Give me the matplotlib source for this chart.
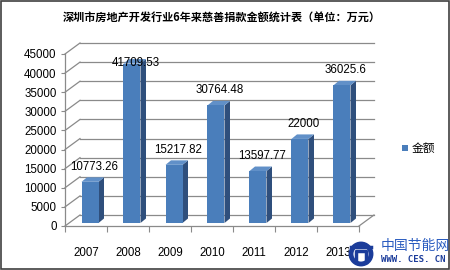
import matplotlib.pyplot as plt
from matplotlib.patches import Polygon, Rectangle, Circle
from matplotlib.lines import Line2D
from matplotlib.transforms import IdentityTransform

plt.rcParams['font.family'] = ['Liberation Sans', 'Noto Sans CJK SC', 'DejaVu Sans']

title = "深圳市房地产开发行业6年来慈善捐款金额统计表（单位：万元）"
years = ["2007", "2008", "2009", "2010", "2011", "2012", "2013"]
values = [10773.26, 41709.53, 15217.82, 30764.48, 13597.77, 22000, 36025.6]
labels = ["10773.26", "41709.53", "15217.82", "30764.48", "13597.77", "22000", "36025.6"]
legend_name = "金额"

W, H = 450, 270
fig = plt.figure(figsize=(4.5, 2.7), dpi=100)

# plot area (front plane) in pixels
x0, x1, y0, ytop = 65, 359, 226, 54
ax = fig.add_axes([x0 / W, (H - y0) / H, (x1 - x0) / W, (y0 - ytop) / H])
n = len(years)
ymax = 45000
ax.set_xlim(0, n)
ax.set_ylim(0, ymax)
ax.patch.set_alpha(0)

px = n / (x1 - x0)          # data units per pixel, x
py = ymax / (y0 - ytop)     # data units per pixel, y

# 3d depth of walls
dx, dy = 15 * px, 11 * py
grid_c = '#8a8a8a'
for t in range(0, ymax + 1, 5000):
    ax.plot([0, dx], [t, t + dy], color=grid_c, lw=0.9, clip_on=False, zorder=1)
    ax.plot([dx, n + dx], [t + dy, t + dy], color=grid_c, lw=0.9, clip_on=False, zorder=1)
ax.plot([n, n + dx], [0, dy], color=grid_c, lw=0.9, clip_on=False, zorder=1)

# bars
front_c, side_c, top_c = '#4a7ebb', '#2f4f7c', '#6190c8'
bw = 17 * px
ox, oy = 4 * px, 3 * py        # bar sits a bit back from the front edge
sx, sy = 5.5 * px, 4.5 * py    # bar depth
for i, v in enumerate(values):
    l = i + 0.5 - bw / 2 + ox
    r = l + bw
    b = oy
    t = v + oy
    ax.add_patch(Polygon([[r, b], [r + sx, b + sy], [r + sx, t + sy], [r, t]],
                         closed=True, fc=side_c, ec='none', clip_on=False, zorder=3))
    ax.add_patch(Polygon([[l, t], [l + sx, t + sy], [r + sx, t + sy], [r, t]],
                         closed=True, fc=top_c, ec='none', clip_on=False, zorder=3))
    ax.add_patch(Rectangle((l, b), bw, v, fc=front_c, ec='none', clip_on=False, zorder=4))
    ly = min(t + 15 * py, ymax - 9 * py)
    ax.text(l + bw / 2 + 4 * px, ly, labels[i], ha='center', va='center',
            fontsize=8.3, color='black', zorder=5)

for s in ['top', 'right']:
    ax.spines[s].set_visible(False)
for s in ['left', 'bottom']:
    ax.spines[s].set_color(grid_c)
    ax.spines[s].set_linewidth(0.9)

ax.set_yticks(range(0, ymax + 1, 5000))
ax.tick_params(axis='y', direction='out', length=3, pad=3, labelsize=8.3, color=grid_c)
ax.set_xticks(range(n + 1))
ax.set_xticklabels([])
ax.set_xticks([i + 0.5 for i in range(n)], minor=True)
ax.set_xticklabels(years, minor=True, fontsize=8.3)
ax.tick_params(axis='x', which='major', direction='out', length=4, color=grid_c)
ax.tick_params(axis='x', which='minor', length=0, pad=15)

def fx(p):
    return p / W

def fy(p):
    return 1 - p / H

fig.text(fx(222), fy(17), title, ha='center', va='center', fontsize=8,
         fontweight='bold', family=['Noto Sans CJK SC', 'DejaVu Sans'])

# legend
fig.add_artist(Rectangle((fx(402), fy(151)), 6 / W, 6 / H, transform=fig.transFigure,
                         fc=front_c, ec='none'))
fig.text(fx(412), fy(148), legend_name, ha='left', va='center', fontsize=8.5,
         family=['Noto Sans CJK SC', 'DejaVu Sans'])

# watermark (pixel coords, origin bottom-left)
pix = IdentityTransform()
logo_c = '#1b3c9a'
fig.add_artist(Rectangle((349, H - 268), 25, 30, transform=pix, fc='white', ec='none'))
fig.add_artist(Circle((361, H - 254), 10, transform=pix, fc='none', ec=logo_c, lw=3.5))
fig.add_artist(Line2D([351, 371], [H - 247, H - 247], transform=pix, color=logo_c, lw=2.5))
fig.add_artist(Line2D([356, 356, 366, 366], [H - 262, H - 251, H - 251, H - 262],
                      transform=pix, color=logo_c, lw=2.5))
fig.text(fx(381), fy(246), "中国节能网", ha='left', va='center', fontsize=10,
         color='#2a5cc0', family=['Noto Sans CJK SC', 'DejaVu Sans'])
fig.text(fx(381), fy(259), "WWW. CES. CN", ha='left', va='center', fontsize=6.5,
         color=logo_c, fontweight='bold', family='DejaVu Sans Mono')

# outer frame
fig.add_artist(Rectangle((0.002, 0.003), 0.996, 0.994, transform=fig.transFigure,
                         fc='none', ec='#404040', lw=1.2))

fig.savefig('out.png', dpi=100)
